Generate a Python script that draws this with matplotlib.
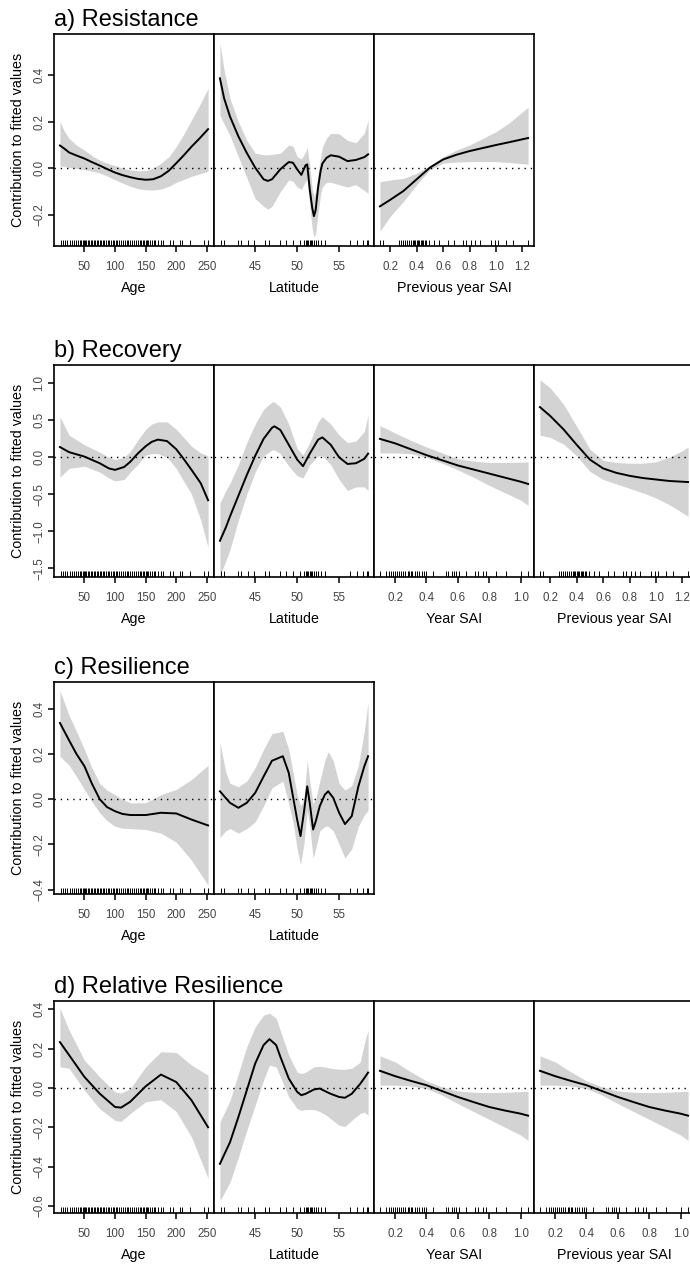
import matplotlib
matplotlib.use('Agg')
import matplotlib.pyplot as plt

plt.rcParams['font.family'] = ['Liberation Sans', 'DejaVu Sans']

W, H = 690, 1265
dpi = 100

# a) Resistance
res_age_x = [10, 17, 25, 37, 50, 62, 75, 87, 100, 112, 125, 137, 150, 162, 175, 188, 200, 212, 225, 238, 252]
res_age_fit = [0.098, 0.085, 0.068, 0.055, 0.042, 0.027, 0.012, -0.003, -0.018, -0.029, -0.038, -0.045,
               -0.049, -0.047, -0.034, -0.01, 0.022, 0.055, 0.093, 0.128, 0.168]
res_age_hi = [0.200, 0.160, 0.128, 0.100, 0.078, 0.055, 0.035, 0.022, 0.012, 0.002, -0.007, -0.010,
              -0.010, 0.0, 0.022, 0.05, 0.093, 0.145, 0.208, 0.27, 0.343]
res_age_lo = [0.011, 0.008, 0.004, 0.0, -0.006, -0.012, -0.020, -0.033, -0.049, -0.063, -0.077, -0.087,
              -0.092, -0.093, -0.089, -0.077, -0.060, -0.048, -0.034, -0.024, -0.013]

res_lat_x = [40.8, 41.3, 42, 43, 44, 45, 46, 46.5, 47, 48, 49, 49.5, 50, 50.5, 51, 51.2, 51.5, 51.8,
             52.0, 52.2, 52.5, 52.8, 53.0, 53.5, 54, 55, 56, 57, 58, 58.45]
res_lat_fit = [0.386, 0.30, 0.222, 0.137, 0.066, 0.003, -0.047, -0.054, -0.047, -0.004, 0.027, 0.024,
               -0.004, -0.028, 0.013, 0.017, -0.09, -0.17, -0.205, -0.18, -0.08, -0.01, 0.02, 0.045,
               0.056, 0.05, 0.031, 0.036, 0.048, 0.06]
res_lat_hi = [0.536, 0.42, 0.30, 0.20, 0.12, 0.065, 0.058, 0.058, 0.06, 0.065, 0.10, 0.095, 0.05, 0.04,
              0.07, 0.09, 0.01, -0.09, -0.12, -0.10, -0.02, 0.05, 0.09, 0.13, 0.15, 0.148, 0.12, 0.11,
              0.15, 0.207]
res_lat_lo = [0.229, 0.19, 0.14, 0.05, -0.04, -0.13, -0.163, -0.175, -0.163, -0.10, -0.05, -0.055, -0.08,
              -0.09, -0.056, -0.05, -0.16, -0.26, -0.295, -0.28, -0.19, -0.11, -0.08, -0.06, -0.06,
              -0.07, -0.08, -0.07, -0.095, -0.107]

res_prev_x = [0.122, 0.2, 0.3, 0.4, 0.5, 0.6, 0.7, 0.8, 0.9, 1.0, 1.1, 1.243]
res_prev_fit = [-0.163, -0.135, -0.097, -0.047, 0.003, 0.038, 0.058, 0.074, 0.087, 0.10, 0.112, 0.13]
res_prev_hi = [-0.057, -0.05, -0.043, -0.021, 0.012, 0.05, 0.078, 0.10, 0.128, 0.157, 0.195, 0.262]
res_prev_lo = [-0.27, -0.206, -0.142, -0.07, -0.006, 0.022, 0.027, 0.029, 0.029, 0.029, 0.025, 0.018]

# b) Recovery
rec_age_x = [10, 25, 50, 75, 90, 100, 115, 125, 137, 150, 160, 170, 185, 200, 212, 225, 240, 252]
rec_age_fit = [0.14, 0.07, 0.01, -0.08, -0.15, -0.17, -0.13, -0.06, 0.05, 0.15, 0.21, 0.24, 0.22, 0.11,
               -0.02, -0.17, -0.35, -0.58]
rec_age_hi = [0.55, 0.30, 0.17, 0.07, 0.0, -0.03, 0.0, 0.08, 0.23, 0.38, 0.45, 0.48, 0.48, 0.38, 0.27,
              0.15, 0.06, 0.02]
rec_age_lo = [-0.27, -0.15, -0.12, -0.20, -0.28, -0.32, -0.30, -0.20, -0.10, 0.03, 0.05, 0.05, 0.0,
              -0.15, -0.32, -0.50, -0.85, -1.22]

rec_lat_x = [40.8, 41.5, 42, 43, 44, 45, 46, 47, 47.3, 48, 49, 50, 50.7, 51.5, 52.5, 53, 54, 55, 56,
             57, 58, 58.45]
rec_lat_fit = [-1.13, -0.95, -0.80, -0.52, -0.24, 0.02, 0.25, 0.40, 0.42, 0.37, 0.17, -0.03, -0.12,
               0.05, 0.24, 0.27, 0.17, 0.0, -0.09, -0.08, -0.02, 0.05]
rec_lat_hi = [-0.62, -0.45, -0.35, -0.10, 0.20, 0.45, 0.65, 0.75, 0.75, 0.68, 0.45, 0.12, 0.03, 0.20,
              0.48, 0.55, 0.45, 0.30, 0.20, 0.22, 0.35, 0.57]
rec_lat_lo = [-1.60, -1.40, -1.25, -0.85, -0.50, -0.20, 0.02, 0.10, 0.10, 0.05, -0.12, -0.25, -0.28,
              -0.10, 0.02, 0.02, -0.10, -0.30, -0.45, -0.40, -0.40, -0.45]

rec_year_x = [0.104, 0.2, 0.3, 0.4, 0.5, 0.6, 0.7, 0.8, 0.9, 1.0, 1.047]
rec_year_fit = [0.25, 0.19, 0.11, 0.03, -0.04, -0.11, -0.165, -0.22, -0.275, -0.33, -0.36]
rec_year_hi = [0.43, 0.33, 0.23, 0.14, 0.06, -0.02, -0.05, -0.07, -0.07, -0.065, -0.06]
rec_year_lo = [0.06, 0.06, 0.05, 0.0, -0.08, -0.17, -0.27, -0.38, -0.48, -0.58, -0.65]

rec_prev_x = [0.122, 0.2, 0.3, 0.4, 0.5, 0.6, 0.7, 0.8, 0.9, 1.0, 1.1, 1.2, 1.243]
rec_prev_fit = [0.68, 0.56, 0.38, 0.17, -0.03, -0.15, -0.21, -0.25, -0.28, -0.30, -0.32, -0.33, -0.335]
rec_prev_hi = [1.05, 0.94, 0.72, 0.42, 0.11, -0.04, -0.07, -0.08, -0.08, -0.06, 0.0, 0.09, 0.14]
rec_prev_lo = [0.30, 0.27, 0.18, 0.02, -0.19, -0.30, -0.36, -0.42, -0.48, -0.55, -0.64, -0.75, -0.80]

# c) Resilience
rsl_age_x = [10, 25, 37, 50, 62, 75, 87, 100, 112, 125, 150, 175, 200, 225, 252]
rsl_age_fit = [0.337, 0.26, 0.20, 0.146, 0.07, 0.0, -0.035, -0.053, -0.065, -0.07, -0.07, -0.06, -0.063,
               -0.09, -0.116]
rsl_age_hi = [0.48, 0.37, 0.30, 0.22, 0.14, 0.07, 0.04, 0.02, 0.0, -0.016, -0.016, 0.02, 0.043, 0.087,
              0.15]
rsl_age_lo = [0.19, 0.15, 0.10, 0.043, -0.01, -0.06, -0.095, -0.12, -0.128, -0.13, -0.134, -0.15, -0.19,
              -0.27, -0.38]

rsl_lat_x = [40.8, 41.5, 42, 43, 44, 45, 46, 47, 48.3, 49, 49.5, 50, 50.4, 50.8, 51.2, 51.5, 51.9,
             52.2, 52.7, 53.3, 53.7, 54.3, 55, 55.7, 56.5, 57.3, 58, 58.45]
rsl_lat_fit = [0.035, 0.005, -0.016, -0.038, -0.016, 0.028, 0.10, 0.17, 0.19, 0.116, 0.013, -0.09,
               -0.163, -0.06, 0.057, -0.016, -0.134, -0.10, -0.03, 0.02, 0.035, 0.006, -0.06, -0.11,
               -0.075, 0.057, 0.145, 0.19]
rsl_lat_hi = [0.25, 0.12, 0.07, 0.055, 0.08, 0.14, 0.22, 0.29, 0.30, 0.22, 0.12, 0.02, -0.03, 0.0, 0.17,
              0.08, -0.02, 0.0, 0.08, 0.17, 0.21, 0.17, 0.07, 0.04, 0.06, 0.15, 0.30, 0.43]
rsl_lat_lo = [-0.17, -0.14, -0.13, -0.15, -0.13, -0.10, -0.03, 0.05, 0.08, -0.02, -0.10, -0.22, -0.29,
              -0.20, -0.05, -0.12, -0.26, -0.22, -0.14, -0.12, -0.12, -0.14, -0.20, -0.26, -0.22,
              -0.12, -0.07, -0.05]

# d) Relative Resilience
rr_age_x = [10, 25, 50, 75, 100, 110, 125, 150, 175, 200, 225, 252]
rr_age_fit = [0.233, 0.167, 0.056, -0.029, -0.097, -0.10, -0.07, 0.008, 0.068, 0.03, -0.063, -0.20]
rr_age_hi = [0.405, 0.294, 0.141, 0.056, -0.02, -0.026, -0.003, 0.107, 0.184, 0.18, 0.116, 0.065]
rr_age_lo = [0.107, 0.10, -0.012, -0.106, -0.165, -0.17, -0.13, -0.07, -0.06, -0.12, -0.25, -0.46]

rr_lat_x = [40.8, 42, 43, 44, 45, 46, 46.7, 47.5, 48, 49, 50, 50.5, 51, 52, 52.7, 53.5, 54, 55, 55.7,
            56.5, 57.5, 58, 58.45]
rr_lat_fit = [-0.386, -0.276, -0.148, -0.012, 0.124, 0.218, 0.248, 0.218, 0.158, 0.048, -0.02, -0.037,
              -0.03, -0.008, -0.003, -0.02, -0.03, -0.046, -0.05, -0.03, 0.02, 0.05, 0.078]
rr_lat_hi = [-0.174, -0.063, 0.073, 0.21, 0.31, 0.37, 0.38, 0.354, 0.29, 0.167, 0.08, 0.073, 0.08, 0.107,
             0.11, 0.105, 0.10, 0.095, 0.095, 0.10, 0.13, 0.226, 0.294]
rr_lat_lo = [-0.574, -0.48, -0.352, -0.216, -0.088, 0.04, 0.116, 0.107, 0.056, -0.046, -0.105, -0.114,
             -0.11, -0.11, -0.12, -0.14, -0.157, -0.19, -0.196, -0.165, -0.13, -0.123, -0.14]

rr_year_x = [0.104, 0.2, 0.3, 0.4, 0.5, 0.6, 0.7, 0.8, 0.9, 1.0, 1.047]
rr_year_fit = [0.087, 0.06, 0.036, 0.014, -0.016, -0.046, -0.072, -0.097, -0.115, -0.131, -0.141]
rr_year_hi = [0.163, 0.133, 0.082, 0.036, 0.005, -0.015, -0.022, -0.024, -0.022, -0.019, -0.017]
rr_year_lo = [0.014, 0.014, 0.01, -0.003, -0.037, -0.08, -0.12, -0.16, -0.20, -0.24, -0.267]

rr_prev_x = [0.104, 0.2, 0.3, 0.4, 0.5, 0.6, 0.7, 0.8, 0.9, 1.0, 1.047]
rr_prev_fit = [0.087, 0.06, 0.036, 0.014, -0.016, -0.046, -0.072, -0.097, -0.115, -0.131, -0.141]
rr_prev_hi = [0.163, 0.133, 0.082, 0.036, 0.005, -0.015, -0.022, -0.024, -0.022, -0.019, -0.017]
rr_prev_lo = [0.014, 0.014, 0.01, -0.003, -0.037, -0.08, -0.12, -0.16, -0.20, -0.24, -0.267]

# rug values
age_rug = [12, 15, 19, 22, 26, 30, 33, 37, 40, 42, 44, 47, 49, 51, 53, 56, 58, 60, 63, 66, 68, 70, 72,
           75, 77, 80, 82, 85, 88, 90, 93, 96, 99, 102, 104, 107, 110, 113, 116, 119, 122, 125, 128,
           131, 134, 137, 140, 142, 145, 147, 150, 152, 154, 157, 160, 163, 166, 170, 175, 179, 190,
           195, 206, 210, 222, 245, 252]
lat_rug = [40.88, 41.27, 42.98, 43.26, 44.17, 44.85, 46.2, 46.7, 47.9, 48.7, 49.45, 50.3, 50.8, 51.0,
           51.2, 51.35, 51.5, 51.65, 51.8, 52.0, 52.2, 52.5, 52.8, 53.3, 56.3, 57.1, 57.9, 58.3, 58.45]
prev_rug = [0.122, 0.147, 0.263, 0.28, 0.30, 0.31, 0.33, 0.345, 0.36, 0.37, 0.38, 0.39, 0.40, 0.41,
            0.42, 0.43, 0.44, 0.45, 0.46, 0.471, 0.496, 0.534, 0.572, 0.635, 0.686, 0.749, 0.77,
            0.813, 0.838, 0.876, 0.965, 0.99, 1.016, 1.078, 1.129, 1.243]
year_rug = [0.104, 0.143, 0.16, 0.175, 0.19, 0.2, 0.21, 0.225, 0.24, 0.25, 0.265, 0.28, 0.29, 0.3,
            0.31, 0.325, 0.34, 0.355, 0.37, 0.385, 0.398, 0.44, 0.525, 0.54, 0.56, 0.575, 0.59, 0.61,
            0.653, 0.706, 0.73, 0.76, 0.78, 0.845, 0.908, 1.004, 1.047]

age_ticks = [50, 100, 150, 200, 250]
lat_ticks = [45, 50, 55]
sai_ticks = [0.2, 0.4, 0.6, 0.8, 1.0, 1.2]
year_ticks = [0.2, 0.4, 0.6, 0.8, 1.0]

rows = [
    ('a) Resistance', 34, (-0.333, 0.576), [-0.2, 0.0, 0.2, 0.4], [
        (res_age_x, res_age_fit, res_age_lo, res_age_hi, age_rug, age_ticks, 'Age'),
        (res_lat_x, res_lat_fit, res_lat_lo, res_lat_hi, lat_rug, lat_ticks, 'Latitude'),
        (res_prev_x, res_prev_fit, res_prev_lo, res_prev_hi, prev_rug, sai_ticks, 'Previous year SAI'),
    ]),
    ('b) Recovery', 365, (-1.62, 1.25), [-1.5, -1.0, -0.5, 0.0, 0.5, 1.0], [
        (rec_age_x, rec_age_fit, rec_age_lo, rec_age_hi, age_rug, age_ticks, 'Age'),
        (rec_lat_x, rec_lat_fit, rec_lat_lo, rec_lat_hi, lat_rug, lat_ticks, 'Latitude'),
        (rec_year_x, rec_year_fit, rec_year_lo, rec_year_hi, year_rug, year_ticks, 'Year SAI'),
        (rec_prev_x, rec_prev_fit, rec_prev_lo, rec_prev_hi, prev_rug, sai_ticks, 'Previous year SAI'),
    ]),
    ('c) Resilience', 682, (-0.419, 0.518), [-0.4, -0.2, 0.0, 0.2, 0.4], [
        (rsl_age_x, rsl_age_fit, rsl_age_lo, rsl_age_hi, age_rug, age_ticks, 'Age'),
        (rsl_lat_x, rsl_lat_fit, rsl_lat_lo, rsl_lat_hi, lat_rug, lat_ticks, 'Latitude'),
    ]),
    ('d) Relative Resilience', 1001, (-0.636, 0.442), [-0.6, -0.4, -0.2, 0.0, 0.2, 0.4], [
        (rr_age_x, rr_age_fit, rr_age_lo, rr_age_hi, age_rug, age_ticks, 'Age'),
        (rr_lat_x, rr_lat_fit, rr_lat_lo, rr_lat_hi, lat_rug, lat_ticks, 'Latitude'),
        (rr_year_x, rr_year_fit, rr_year_lo, rr_year_hi, year_rug, year_ticks, 'Year SAI'),
        (rr_prev_x, rr_prev_fit, rr_prev_lo, rr_prev_hi, year_rug, year_ticks, 'Previous year SAI'),
    ]),
]

left0, pw, ph = 54, 160, 212
tick_col = '#444444'


def fmt(v, dec):
    s = f'{abs(v):.{dec}f}'
    return ('\u2212' + s) if v < 0 else s


fig = plt.figure(figsize=(W / dpi, H / dpi), dpi=dpi)

for title, top, ylim, yticks, panels in rows:
    fig.text(left0 / W, 1 - (top - 8) / H, title, fontsize=17, ha='left', va='baseline')
    fig.text(18 / W, 1 - (top + ph / 2) / H, 'Contribution to fitted values', fontsize=10.3,
             rotation=90, ha='center', va='center')

    for i, (x, fit, lo, hi, rug, xticks, xlabel) in enumerate(panels):
        left = left0 + i * pw
        ax = fig.add_axes([left / W, 1 - (top + ph) / H, pw / W, ph / H])
        ax.fill_between(x, lo, hi, color='#d3d3d3', lw=0)
        ax.plot(x, fit, color='black', lw=1.4)
        ax.axhline(0, color='black', lw=1.0, ls=(0, (1, 3.5)))
        ax.margins(x=0.04)
        ax.autoscale_view()
        xlim = ax.get_xlim()
        ax.vlines(rug, 0, 0.03, transform=ax.get_xaxis_transform(), color='black', lw=0.7)
        ax.set_xlim(xlim)
        ax.set_ylim(ylim)

        dec = 0 if xticks[0] >= 1 else 1
        ax.set_xticks(xticks, [fmt(t, dec) for t in xticks])
        ax.tick_params(axis='x', direction='out', length=4.5, width=1.1, labelsize=8.3, pad=6.5,
                       labelcolor=tick_col)
        if i == 0:
            ax.set_yticks(yticks, [fmt(t, 1) for t in yticks], rotation=90, va='center')
            ax.tick_params(axis='y', direction='out', length=4.5, width=1.1, labelsize=8.3, pad=1.5,
                           labelcolor=tick_col)
        else:
            ax.set_yticks([])

        for sp in ax.spines.values():
            sp.set_linewidth(1.2)

        fig.text((left + pw / 2) / W, 1 - (top + ph + 42) / H, xlabel, fontsize=10.3,
                 ha='center', va='center')

fig.savefig('out.png', dpi=dpi)
